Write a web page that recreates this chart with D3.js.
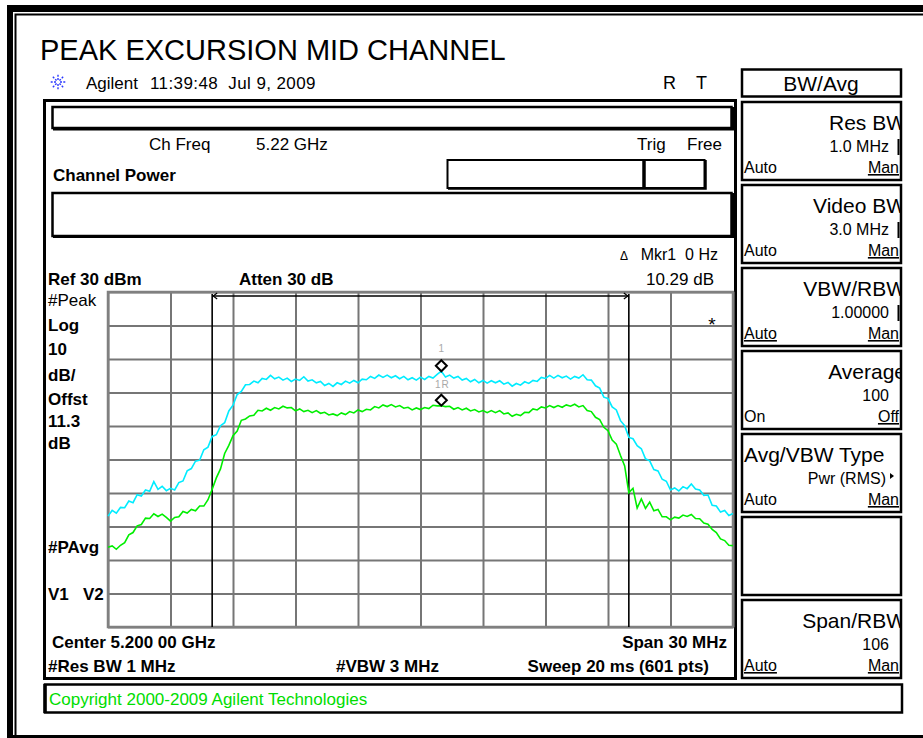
<!DOCTYPE html>
<html><head><meta charset="utf-8">
<script src="https://cdn.jsdelivr.net/npm/d3@7"></script>
<style>
html,body{margin:0;padding:0;background:#fff;}
svg{display:block;}
text{font-family:"Liberation Sans",Arial,Helvetica,sans-serif;fill:#000;white-space:pre;}
</style></head><body>
<svg id="c" width="923" height="738"></svg>
<script>
// Sweep settings
const freqStartGHz = 5.185;
const freqStopGHz = 5.215;
const refLevelDbm = 30;
const bottomLevelDbm = -70;

// Grid lines (10 divisions each way)
const xGridFreqs = [5.185, 5.188, 5.191, 5.194, 5.197, 5.200, 5.203, 5.206, 5.209, 5.212, 5.215];
const yGridLevels = [30, 20, 10, 0, -10, -20, -30, -40, -50, -60, -70];

// Trace 1: #Peak (dBm), 151 points across the span
const peakTrace = [
  -36.9, -35.2, -36.0, -34.3, -34.4, -32.4, -32.9, -30.5, -30.9, -29.1,
  -29.5, -26.6, -28.9, -28.0, -29.3, -28.6, -29.1, -26.9, -26.4, -23.4,
  -22.7, -20.5, -20.2, -17.1, -16.3, -13.1, -12.6, -9.9, -9.0, -5.5,
  -3.8, -0.6, 0.3, 2.3, 2.4, 3.4, 2.9, 4.2, 3.9, 5.1,
  4.1, 4.6, 3.7, 4.3, 3.3, 4.0, 3.6, 4.7, 3.4, 3.8,
  2.9, 3.3, 2.1, 2.7, 1.8, 2.9, 2.4, 3.4, 2.8, 3.6,
  2.9, 4.0, 3.8, 4.8, 4.2, 5.2, 4.5, 5.2, 4.4, 5.0,
  4.1, 4.8, 3.8, 4.4, 3.7, 4.6, 3.9, 4.8, 4.3, 5.4,
  6.35, 4.6, 5.2, 4.3, 4.8, 3.7, 4.2, 3.2, 3.9, 2.9,
  3.6, 2.8, 3.5, 2.9, 3.5, 2.5, 3.0, 1.9, 2.7, 2.2,
  3.2, 2.7, 3.6, 3.3, 4.5, 4.2, 5.1, 4.3, 5.1, 4.4,
  4.9, 4.0, 4.8, 4.3, 5.3, 3.8, 3.7, 2.0, 1.3, -1.4,
  -1.8, -4.3, -5.2, -8.4, -9.9, -13.4, -13.8, -15.9, -16.8, -19.8,
  -20.4, -23.0, -23.4, -25.9, -26.5, -29.1, -28.5, -29.4, -28.1, -28.7,
  -27.3, -28.8, -29.1, -30.7, -30.6, -33.7, -33.9, -35.7, -35.2, -36.7,
  -36.1
];

// Trace 2: #PAvg (dBm), 151 points across the span
const avgTrace = [
  -46.2, -45.8, -46.8, -45.6, -44.8, -42.5, -41.8, -39.8, -39.4, -37.5,
  -37.6, -36.2, -37.0, -36.3, -37.3, -38.4, -37.3, -37.1, -35.5, -36.0,
  -34.9, -35.3, -33.9, -33.9, -32.0, -28.9, -25.5, -22.8, -18.2, -15.8,
  -12.9, -11.5, -8.3, -7.9, -7.0, -6.8, -5.3, -5.5, -4.7, -5.3,
  -4.5, -4.9, -4.1, -4.6, -4.5, -5.5, -4.9, -5.7, -5.3, -6.0,
  -5.4, -6.2, -5.9, -6.7, -6.4, -6.9, -6.1, -6.6, -5.7, -6.1,
  -5.2, -5.7, -5.0, -5.2, -4.2, -4.6, -3.7, -4.2, -3.6, -4.3,
  -3.9, -4.7, -4.4, -5.2, -4.6, -5.1, -4.5, -4.8, -3.8, -4.0,
  -3.94, -4.2, -4.1, -5.0, -4.5, -5.2, -4.7, -5.5, -5.1, -5.8,
  -5.4, -6.0, -5.4, -6.0, -5.4, -6.4, -6.1, -7.1, -6.5, -6.9,
  -5.9, -6.0, -4.9, -5.2, -4.3, -4.6, -3.9, -4.5, -3.9, -4.4,
  -3.7, -4.1, -3.5, -4.3, -3.9, -5.4, -5.7, -7.4, -8.1, -10.4,
  -11.4, -14.2, -15.4, -18.8, -21.9, -29.9, -28.6, -34.5, -31.8, -34.6,
  -32.7, -35.3, -34.9, -37.1, -37.1, -38.0, -37.2, -37.5, -36.6, -37.0,
  -36.4, -37.6, -37.7, -39.0, -39.3, -40.9, -41.8, -43.7, -44.2, -45.6,
  -45.7
];

// Marker 1 (delta) and its reference 1R
const markerFreqGHz = 5.201;
const markerDbm = 6.35;
const markerRefDbm = -3.94;

// Frequency lines V1 / V2
const lineFreqsGHz = [5.190, 5.210];

// Left annotation column
const leftLabels = [
  {t: "#Peak", y: 306, bold: false},
  {t: "Log", y: 331, bold: true},
  {t: "10", y: 355, bold: true},
  {t: "dB/", y: 381, bold: true},
  {t: "Offst", y: 405, bold: true},
  {t: "11.3", y: 427, bold: true},
  {t: "dB", y: 449, bold: true},
  {t: "#PAvg", y: 553, bold: true},
  {t: "V1   V2", y: 600, bold: true}
];

// Softkey menu
const softkeys = [
  {title: "Res BW", value: "1.0 MHz", bar: true, left: "Auto", right: "Man", ul: [false, true]},
  {title: "Video BW", value: "3.0 MHz", bar: true, left: "Auto", right: "Man", ul: [false, true]},
  {title: "VBW/RBW", value: "1.00000", bar: true, left: "Auto", right: "Man", ul: [true, true]},
  {title: "Average", value: "100", bar: false, left: "On", right: "Off", ul: [false, true]},
  {title: "Avg/VBW Type", value: "Pwr (RMS)", arrow: true, titleLeft: true, left: "Auto", right: "Man", ul: [false, true]},
  {title: "", value: "", left: "", right: "", ul: [false, false]},
  {title: "Span/RBW", value: "106", bar: false, left: "Auto", right: "Man", ul: [true, true]}
];

const svg = d3.select("#c");
const FONT = 17;

// Outer frame
svg.append("rect").attr("x", 7).attr("y", 5).attr("width", 916).attr("height", 7).attr("fill", "#000");
svg.append("rect").attr("x", 7).attr("y", 5).attr("width", 6).attr("height", 733).attr("fill", "#000");
svg.append("rect").attr("x", 7).attr("y", 735).attr("width", 916).attr("height", 3).attr("fill", "#000");
svg.append("path").attr("d", "M15.5,738V14.5H923").attr("fill", "none").attr("stroke", "#000").attr("stroke-width", 2);

// Title
svg.append("text").attr("x", 40).attr("y", 60).attr("font-size", 29).text("PEAK EXCURSION MID CHANNEL");

// Instrument logo (spark)
const logo = svg.append("g").attr("transform", "translate(58,82)");
for (let k = 0; k < 8; k++) {
  const a = k * Math.PI / 4;
  logo.append("line").attr("x1", Math.cos(a) * 2).attr("y1", Math.sin(a) * 2)
    .attr("x2", Math.cos(a) * 8.5).attr("y2", Math.sin(a) * 8.5)
    .attr("stroke", "#2b39ff").attr("stroke-width", 1.4).attr("stroke-dasharray", "2,1.3");
}
svg.append("text").attr("x", 86).attr("y", 89).attr("font-size", FONT).text("Agilent");
svg.append("text").attr("x", 150).attr("y", 89).attr("font-size", FONT).attr("letter-spacing", 0.4).text("11:39:48  Jul 9, 2009");
svg.append("text").attr("x", 663).attr("y", 89).attr("font-size", 18).text("R");
svg.append("text").attr("x", 696).attr("y", 89).attr("font-size", 18).text("T");

// Main display panel
function box(x, y, w, h, sw) {
  svg.append("rect").attr("x", x).attr("y", y).attr("width", w).attr("height", h)
    .attr("fill", "none").attr("stroke", "#000").attr("stroke-width", sw || 2);
}
box(44.5, 100.5, 691, 578, 3);
box(52.5, 107, 679, 21, 2.5);
svg.append("path").attr("d", "M53,129.5H733V107").attr("fill", "none").attr("stroke", "#000").attr("stroke-width", 2);

svg.append("text").attr("x", 149).attr("y", 150).attr("font-size", FONT).text("Ch Freq");
svg.append("text").attr("x", 256).attr("y", 150).attr("font-size", FONT).text("5.22 GHz");
svg.append("text").attr("x", 637).attr("y", 150).attr("font-size", FONT).text("Trig");
svg.append("text").attr("x", 687).attr("y", 150).attr("font-size", FONT).text("Free");
svg.append("text").attr("x", 53).attr("y", 181).attr("font-size", FONT).attr("font-weight", "bold").text("Channel Power");

box(447.5, 160, 257, 28, 2);
svg.append("path").attr("d", "M448,188.5H705.5V160").attr("fill", "none").attr("stroke", "#000").attr("stroke-width", 2.5);
svg.append("line").attr("x1", 644).attr("x2", 644).attr("y1", 160).attr("y2", 189).attr("stroke", "#000").attr("stroke-width", 3.5);
box(52.5, 193, 679, 43, 2.5);
svg.append("path").attr("d", "M53,237H733V193").attr("fill", "none").attr("stroke", "#000").attr("stroke-width", 2);

// Scales
const x = d3.scaleLinear().domain([freqStartGHz, freqStopGHz]).range([108, 733]);
const y = d3.scaleLinear().domain([bottomLevelDbm, refLevelDbm]).range([627, 292]);

// Header annotations above graticule
const delta = (markerDbm - markerRefDbm).toFixed(2);
svg.append("text").attr("x", 48).attr("y", 285).attr("font-size", FONT).attr("font-weight", "bold").text("Ref 30 dBm");
svg.append("text").attr("x", 239).attr("y", 285).attr("font-size", FONT).attr("font-weight", "bold").text("Atten 30 dB");
svg.append("text").attr("x", 718).attr("y", 260).attr("font-size", 16).attr("text-anchor", "end").text("Mkr1  0 Hz");
svg.append("text").attr("x", 620).attr("y", 260).attr("font-size", 12).text("\u0394");
svg.append("text").attr("x", 714).attr("y", 285).attr("font-size", FONT).attr("text-anchor", "end").text(delta + " dB");

leftLabels.forEach(d => {
  svg.append("text").attr("x", 48).attr("y", d.y).attr("font-size", FONT)
    .attr("font-weight", d.bold ? "bold" : "normal").text(d.t);
});

// Graticule
const plotH = y(bottomLevelDbm) - y(refLevelDbm);
const plotW = x(freqStopGHz) - x(freqStartGHz);
const gx = svg.append("g").attr("transform", `translate(0,${y(bottomLevelDbm)})`)
  .call(d3.axisBottom(x).tickValues(xGridFreqs).tickSize(-plotH).tickFormat(""));
const gy = svg.append("g").attr("transform", `translate(${x(freqStartGHz)},0)`)
  .call(d3.axisLeft(y).tickValues(yGridLevels).tickSize(-plotW).tickFormat(""));
[gx, gy].forEach(g => {
  g.select(".domain").remove();
  g.selectAll(".tick line").attr("stroke", "#767676").attr("stroke-width", 2);
});
svg.append("rect").attr("x", x(freqStartGHz)).attr("y", y(refLevelDbm)).attr("width", plotW).attr("height", plotH)
  .attr("fill", "none").attr("stroke", "#808080").attr("stroke-width", 2.5);

// Frequency lines with span arrow
const vTop = y(refLevelDbm) + 2;
lineFreqsGHz.forEach(f => {
  svg.append("line").attr("x1", x(f)).attr("x2", x(f)).attr("y1", vTop).attr("y2", y(bottomLevelDbm))
    .attr("stroke", "#000").attr("stroke-width", 1.6);
});
const ay = vTop + 2;
const ax1 = x(lineFreqsGHz[0]), ax2 = x(lineFreqsGHz[1]);
svg.append("line").attr("x1", ax1).attr("x2", ax2).attr("y1", ay).attr("y2", ay).attr("stroke", "#000").attr("stroke-width", 1.3);
svg.append("path").attr("d", `M${ax1 + 5},${ay - 3}L${ax1 + 1},${ay}L${ax1 + 5},${ay + 3}`).attr("fill", "none").attr("stroke", "#000").attr("stroke-width", 1.2);
svg.append("path").attr("d", `M${ax2 - 5},${ay - 3}L${ax2 - 1},${ay}L${ax2 - 5},${ay + 3}`).attr("fill", "none").attr("stroke", "#000").attr("stroke-width", 1.2);

svg.append("text").attr("x", 712).attr("y", 331).attr("font-size", 19).attr("text-anchor", "middle").text("*");

// Traces
const step = (freqStopGHz - freqStartGHz) / (peakTrace.length - 1);
const line = d3.line().x((d, i) => x(freqStartGHz + i * step)).y(d => y(d));

// Marker labels (drawn under the traces)
const mx = x(markerFreqGHz);
svg.append("text").attr("x", mx).attr("y", 352).attr("font-size", 10)
  .attr("text-anchor", "middle").style("fill", "#a8a8a8").text("1");
svg.append("text").attr("x", mx + 1).attr("y", 388).attr("font-size", 10)
  .attr("text-anchor", "middle").style("fill", "#a8a8a8").attr("letter-spacing", 1).text("1R");

svg.append("path").datum(avgTrace).attr("d", line).attr("fill", "none")
  .attr("stroke", "#00ee00").attr("stroke-width", 1.6);
svg.append("path").datum(peakTrace).attr("d", line).attr("fill", "none")
  .attr("stroke", "#00ecff").attr("stroke-width", 1.6);

// Marker diamonds sit on the trace with the lower tip at the marker value
[markerDbm, markerRefDbm].forEach(v => {
  const py = y(v), cy = py - 5.5;
  svg.append("path").attr("d", `M${mx},${cy - 5.5}L${mx + 5.5},${cy}L${mx},${cy + 5.5}L${mx - 5.5},${cy}Z`)
    .attr("fill", "#fff").attr("stroke", "#000").attr("stroke-width", 2);
});

// Footer annotations
svg.append("text").attr("x", 52).attr("y", 648).attr("font-size", FONT).attr("font-weight", "bold").text("Center 5.200 00 GHz");
svg.append("text").attr("x", 727).attr("y", 648).attr("font-size", FONT).attr("font-weight", "bold").attr("text-anchor", "end").text("Span 30 MHz");
svg.append("text").attr("x", 48).attr("y", 672).attr("font-size", FONT).attr("font-weight", "bold").text("#Res BW 1 MHz");
svg.append("text").attr("x", 336).attr("y", 672).attr("font-size", FONT).attr("font-weight", "bold").text("#VBW 3 MHz");
svg.append("text").attr("x", 709).attr("y", 672).attr("font-size", FONT).attr("font-weight", "bold").attr("text-anchor", "end").text("Sweep 20 ms (601 pts)");

// Status line
box(45, 684.5, 857, 28, 2.5);
svg.append("line").attr("x1", 45).attr("x2", 45).attr("y1", 684).attr("y2", 713).attr("stroke", "#000").attr("stroke-width", 3.5);
svg.append("text").attr("x", 49).attr("y", 705).attr("font-size", FONT).style("fill", "#00dd00").text("Copyright 2000-2009 Agilent Technologies");

// Softkey menu
box(742, 69.5, 159, 27, 2.5);
svg.append("text").attr("x", 821).attr("y", 91).attr("font-size", 21).attr("text-anchor", "middle").text("BW/Avg");

const defs = svg.append("defs");
const keyTop = d => 102 + 83 * d;
softkeys.forEach((k, i) => {
  const top = keyTop(i);
  defs.append("clipPath").attr("id", "kc" + i).append("rect").attr("x", 742).attr("y", top).attr("width", 159).attr("height", 78);
  const g = svg.append("g");
  const gc = g.append("g").attr("clip-path", `url(#kc${i})`);
  if (k.title) {
    gc.append("text").attr("x", k.titleLeft ? 744 : 906).attr("y", top + 28).attr("font-size", 21)
      .attr("text-anchor", k.titleLeft ? "start" : "end").text(k.title);
  }
  if (k.value) {
    gc.append("text").attr("x", k.arrow ? 886 : 889).attr("y", top + 50).attr("font-size", 16)
      .attr("text-anchor", "end").text(k.value);
  }
  if (k.arrow) {
    g.append("path").attr("d", `M890,${top + 39}L894,${top + 42}L890,${top + 45}Z`).attr("fill", "#000");
  }
  if (k.bar) {
    g.append("line").attr("x1", 898.5).attr("x2", 898.5).attr("y1", top + 37).attr("y2", top + 53).attr("stroke", "#000").attr("stroke-width", 2);
  }
  if (k.left) {
    const t = gc.append("text").attr("x", 744).attr("y", top + 71).attr("font-size", 16).text(k.left);
    if (k.ul[0]) t.attr("text-decoration", "underline");
  }
  if (k.right) {
    const t = gc.append("text").attr("x", 899).attr("y", top + 71).attr("font-size", 16).attr("text-anchor", "end").text(k.right);
    if (k.ul[1]) t.attr("text-decoration", "underline");
  }
  g.append("rect").attr("x", 742).attr("y", top).attr("width", 159).attr("height", 78)
    .attr("fill", "none").attr("stroke", "#000").attr("stroke-width", 2.5);
});
</script>
</body></html>
